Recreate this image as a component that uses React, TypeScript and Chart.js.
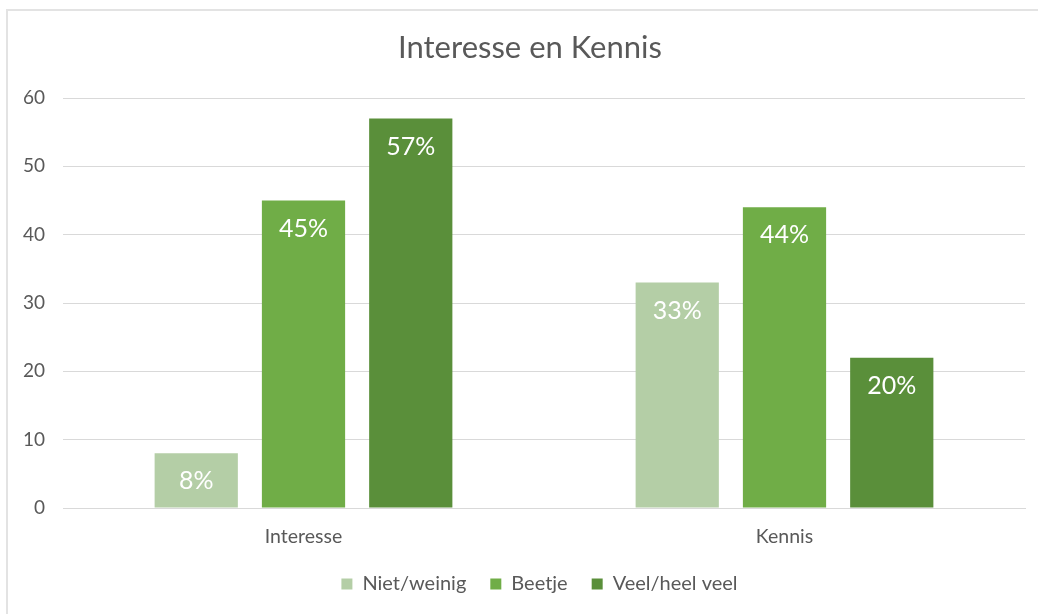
import React, { useEffect, useRef } from "react";
import { Chart, registerables } from "chart.js";

Chart.register(...registerables);

const title = "Interesse en Kennis";
const categories = ["Interesse", "Kennis"];
const seriesNames = ["Niet/weinig", "Beetje", "Veel/heel veel"];
const nietWeinig = [8, 33];
const beetje = [45, 44];
const veel = [57, 22];
const nietWeinigLabels = ["8%", "33%"];
const beetjeLabels = ["45%", "44%"];
const veelLabels = ["57%", "20%"];
const colors = ["#b4cea6", "#70ad47", "#5a8f3a"];
const FONT = "Lato, 'Liberation Sans', sans-serif";
const TEXT = "#595959";

const barLabelPlugin = {
  id: "barLabels",
  afterLayout(chart: any) {
    if (chart.legend) {
      chart.legend.left += 27;
      chart.legend.right += 27;
    }
  },
  afterDatasetsDraw(chart: any) {
    const ctx = chart.ctx;
    const all = [nietWeinigLabels, beetjeLabels, veelLabels];
    ctx.save();
    ctx.fillStyle = "#ffffff";
    ctx.font = `25px ${FONT}`;
    ctx.textAlign = "center";
    ctx.textBaseline = "middle";
    chart.data.datasets.forEach((_: any, di: number) => {
      const meta = chart.getDatasetMeta(di);
      meta.data.forEach((bar: any, i: number) => {
        ctx.fillText(all[di][i], bar.x, bar.y + 28);
      });
    });
    ctx.fillStyle = TEXT;
    ctx.font = `31px ${FONT}`;
    ctx.fillText(title, 530, 48);
    ctx.restore();
  },
};

export default function App() {
  const ref = useRef<HTMLCanvasElement>(null);
  useEffect(() => {
    document.body.style.margin = "0";
    const chart = new Chart(ref.current!, {
      type: "bar",
      data: {
        labels: categories,
        datasets: [
          { label: seriesNames[0], data: nietWeinig, backgroundColor: colors[0] },
          { label: seriesNames[1], data: beetje, backgroundColor: colors[1] },
          { label: seriesNames[2], data: veel, backgroundColor: colors[2] },
        ],
      },
      options: {
        animation: false,
        responsive: false,
        maintainAspectRatio: false,
        layout: { padding: { left: 0, right: 13, top: 98, bottom: 10 } },
        datasets: {
          bar: { categoryPercentage: 0.669, barPercentage: 0.776 },
        },
        plugins: {
          tooltip: { enabled: false },
          title: { display: false },
          legend: {
            position: "bottom",
            labels: {
              color: TEXT,
              font: { family: FONT, size: 20 },
              boxWidth: 11,
              boxHeight: 11,
              padding: 24,
            },
          },
        },
        scales: {
          x: {
            grid: { display: false },
            border: { color: "#d9d9d9", width: 1 },
            ticks: { color: TEXT, font: { family: FONT, size: 19.5 }, padding: 9 },
            afterFit(scale: any) {
              scale.height = 42;
            },
          },
          y: {
            min: 0,
            max: 60,
            ticks: { stepSize: 10, color: TEXT, font: { family: FONT, size: 19 }, padding: 18 },
            grid: { color: "#d9d9d9", drawTicks: false },
            border: { display: false },
            afterFit(scale: any) {
              scale.width = 63;
            },
          },
        },
      },
      plugins: [barLabelPlugin],
    });
    return () => chart.destroy();
  }, []);
  return (
    <div style={{ position: "relative", width: 1038, height: 614, background: "#fff" }}>
      <div
        style={{
          position: "absolute",
          left: 6,
          top: 9,
          width: 1040,
          height: 620,
          borderTop: "2px solid #e3e3e3",
          borderLeft: "2px solid #e3e3e3",
          boxSizing: "border-box",
        }}
      />
      <canvas ref={ref} width={1038} height={614} style={{ position: "absolute", left: 0, top: 0 }} />
    </div>
  );
}
